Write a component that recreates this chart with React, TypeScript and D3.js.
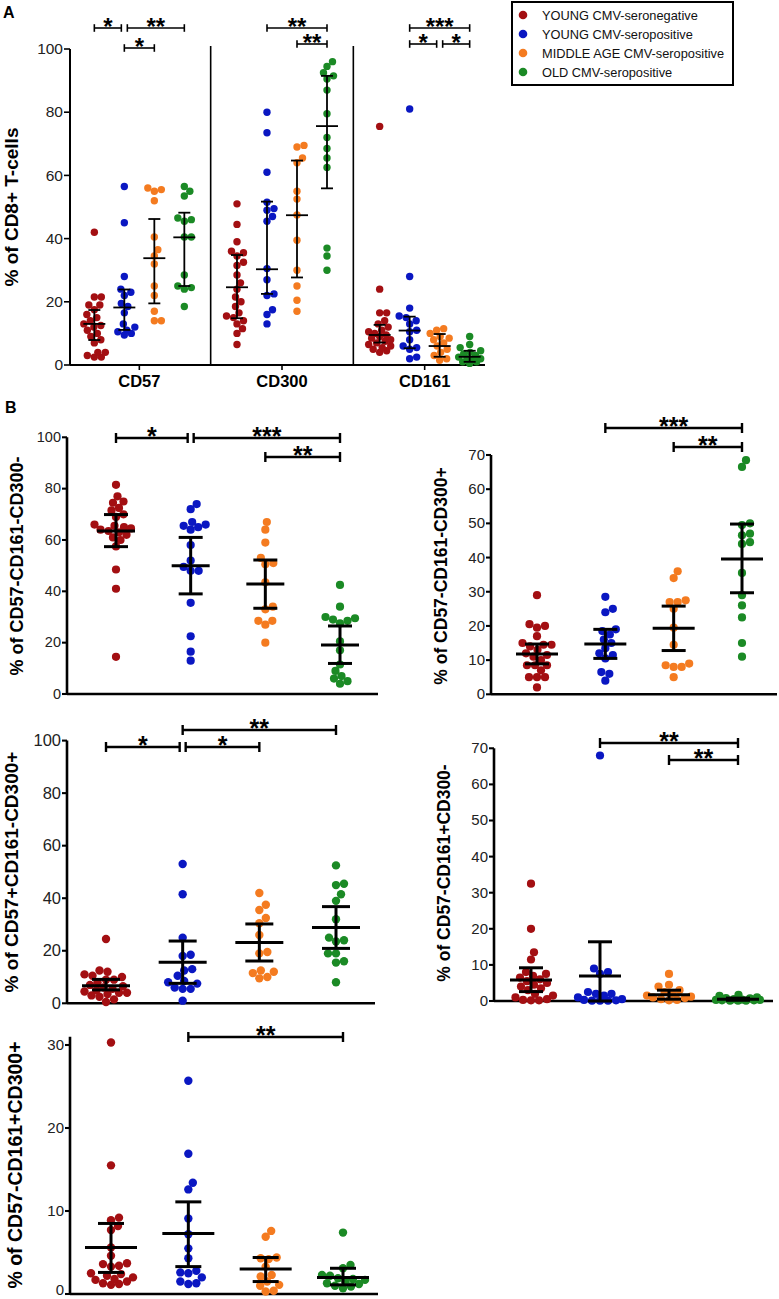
import React from "react";
import * as d3 from "d3";

// ---------------- DATA ----------------
const GROUPS = [
  "YOUNG CMV-seronegative",
  "YOUNG CMV-seropositive",
  "MIDDLE AGE CMV-seropositive",
  "OLD CMV-seropositive",
];
const COLORS = ["#a30f12", "#0a17c2", "#f47b20", "#1b8a25"];

// Panel A
const A_CATEGORIES = ["CD57", "CD300", "CD161"];
const A_TICKS = [0, 20, 40, 60, 80, 100];
const A_CD57 = [
  [42, 21.5, 21.5, 19, 19, 17.5, 16, 15, 14, 13, 12.5, 12, 11, 10, 9, 8, 7, 4, 4, 3, 2.5, 2.5],
  [56.5, 45, 28, 24, 23, 22, 19.5, 18.5, 16.5, 13, 12, 11, 10.5, 10, 9.5],
  [56, 55.5, 55, 52, 40.5, 36.5, 34.5, 32, 25, 22, 17, 14, 14],
  [56.5, 55, 53.5, 46.5, 46, 45.5, 40.5, 40.5, 28.5, 25, 24.5, 24, 18.5],
];
const A_CD300 = [
  [51, 44.5, 39, 36, 35.5, 34.5, 32.5, 31.5, 28.5, 26, 24, 21.5, 20, 18.5, 16.5, 15.5, 15, 14, 13, 11.5, 10, 6.5],
  [80, 73.5, 61, 51.5, 49.5, 49, 47, 45.5, 30.5, 27, 22.5, 22, 17.5, 16, 13],
  [69.5, 69, 65.5, 64, 55, 52.5, 47.5, 39.5, 30, 25, 20.5, 17],
  [96, 94.5, 92.5, 91.5, 90.5, 87, 79.5, 72, 68.5, 65.5, 62.5, 37, 34.5, 30],
];
const A_CD161 = [
  [75.5, 24, 16.5, 16.5, 14, 13, 12, 11, 10.5, 10, 9.5, 9, 8.5, 8, 7.5, 7, 6.5, 6, 5.5, 5, 4.5, 4],
  [81, 28, 18, 15.5, 15, 14, 13, 11, 10.5, 8, 6, 5.5, 5, 2.5, 2],
  [11.5, 11, 10, 9, 8.5, 8, 7, 6, 5, 4, 3, 2, 1.5],
  [9, 6.5, 5.5, 4.5, 4, 3.5, 3, 2.5, 2, 2, 1.5, 1, 1, 0.5],
];
const A_MEANS = [[13, 18.2, 33.8, 40.4], [24.6, 30.3, 47.4, 75.6], [9.5, 10.9, 6.0, 2.6]];
const A_LOWS = [[7.9, 11.1, 19.5, 25], [14.8, 22.5, 27.7, 55.9], [7.1, 5.3, 2.6, 1.0]];
const A_HIGHS = [[17.4, 23.9, 46.2, 48.2], [34.8, 51.7, 64.7, 91.5], [12.7, 15.3, 9.8, 4.5]];
const A_BRACKETS = [
  { cat: 0, from: 0, to: 1, level: 0, label: "*" },
  { cat: 0, from: 1, to: 3, level: 0, label: "**" },
  { cat: 0, from: 1, to: 2, level: 2, label: "*" },
  { cat: 1, from: 1, to: 3, level: 0, label: "**" },
  { cat: 1, from: 2, to: 3, level: 1, label: "**" },
  { cat: 2, from: 1, to: 3, level: 0, label: "***" },
  { cat: 2, from: 1, to: 2, level: 1, label: "*" },
  { cat: 2, from: 2, to: 3, level: 1, label: "*" },
];

// Panel B1: CD57-CD161-CD300-
const B1_LABEL = "% of CD57-CD161-CD300-";
const B1_TICKS = [0, 20, 40, 60, 80, 100];
const B1_VALUES = [
  [81.5, 77, 75, 74.5, 72.5, 71.5, 70, 69, 66, 65.5, 65, 64.5, 64, 63.5, 63, 62, 61, 60, 57.5, 48.5, 41, 14.5],
  [74, 72, 67, 66, 65.5, 65, 64, 58, 52, 49.5, 48, 48, 35.5, 22.5, 16.5, 13],
  [67, 64, 59, 53, 51, 50.5, 43.5, 34, 33, 28.5, 28.5, 27, 20],
  [42.5, 34, 30, 29.5, 29, 28.5, 27.5, 20.5, 17, 11.5, 9, 7, 6, 5, 4],
];
const B1_MEANS = [63.5, 50, 42.9, 19.1];
const B1_LOWS = [57.4, 39, 33.4, 11.9];
const B1_HIGHS = [69.9, 61, 52.2, 26.5];
const B1_BRACKETS = [
  { from: 0, to: 1, level: 0, label: "*" },
  { from: 1, to: 3, level: 0, label: "***" },
  { from: 2, to: 3, level: 1, label: "**" },
];

// Panel B2: CD57-CD161-CD300+
const B2_LABEL = "% of CD57-CD161-CD300+";
const B2_TICKS = [0, 10, 20, 30, 40, 50, 60, 70];
const B2_VALUES = [
  [29, 20.5, 20, 19.5, 17, 15, 14.5, 14.5, 14, 13, 12, 11.5, 11, 10, 8.5, 8.5, 8.5, 7, 5, 5, 5, 2],
  [28.5, 25, 24, 19, 18.5, 17.5, 16, 15, 13.5, 12, 11.5, 10.5, 6.5, 6, 4],
  [36, 34, 27.5, 27, 27, 25, 19.5, 14.5, 9, 8.5, 8, 8, 5],
  [68.5, 66.5, 50, 49.5, 47, 46.5, 44.5, 44, 35.5, 29, 26, 22.5, 15, 11],
];
const B2_MEANS = [11.8, 14.7, 19.3, 39.6];
const B2_LOWS = [8.9, 10.5, 12.8, 29.7];
const B2_HIGHS = [14.7, 19, 25.8, 49.8];
const B2_BRACKETS = [
  { from: 1, to: 3, level: 0, label: "***" },
  { from: 2, to: 3, level: 1, label: "**" },
];

// Panel B3: CD57+CD161-CD300+
const B3_LABEL = "% of CD57+CD161-CD300+";
const B3_TICKS = [0, 20, 40, 60, 80, 100];
const B3_VALUES = [
  [24.5, 12.5, 12, 11, 10.5, 10, 9, 9, 8, 7, 6.5, 6, 5.5, 5, 4.5, 4, 4, 3.5, 3, 2.5, 1.5, 0.5],
  [53, 41.5, 25, 18.5, 18, 13, 12.5, 10.5, 8.5, 8, 7.5, 6, 5.5, 5.5, 1],
  [42, 37.5, 35.5, 32.5, 30.5, 26, 19.5, 19, 12.5, 12, 11.5, 10, 9.5],
  [52.5, 45.5, 45, 41.5, 39, 32, 25, 24, 23.5, 19, 19, 16, 15.5, 8],
];
const B3_MEANS = [6.7, 15.6, 23.1, 28.9];
const B3_LOWS = [5.1, 7.6, 16.1, 20.9];
const B3_HIGHS = [9.1, 23.7, 30.2, 36.8];
const B3_BRACKETS = [
  { from: 1, to: 3, level: 0, label: "**" },
  { from: 0, to: 1, level: 1, label: "*" },
  { from: 1, to: 2, level: 1, label: "*" },
];

// Panel B4: CD57-CD161+CD300-
const B4_LABEL = "% of CD57-CD161+CD300-";
const B4_TICKS = [0, 10, 20, 30, 40, 50, 60, 70];
const B4_VALUES = [
  [32.5, 20, 13.5, 11.5, 8, 7.5, 7, 6.5, 6, 5.5, 5, 4.5, 4, 3.5, 3, 2, 1.5, 1, 0.5, 0.3, 0.2, 0.2],
  [68, 9, 8, 7.5, 2.5, 2, 2, 1.5, 1, 0.5, 0.3, 0.2, 0.1, 0.1, 0.1],
  [7.5, 4.5, 4, 3, 2.5, 2, 1.5, 1.2, 1, 0.8, 0.5, 0.3, 0.2],
  [1.7, 1.4, 1, 0.8, 0.7, 0.5, 0.4, 0.3, 0.3, 0.2, 0.2, 0.1, 0.1, 0.1],
];
const B4_MEANS = [5.8, 6.9, 1.7, 0.5];
const B4_LOWS = [2.6, 0, 0.5, 0.2];
const B4_HIGHS = [9.2, 16.4, 3, 0.8];
const B4_BRACKETS = [
  { from: 1, to: 3, level: 0, label: "**" },
  { from: 2, to: 3, level: 1, label: "**" },
];

// Panel B5: CD57-CD161+CD300+
const B5_LABEL = "% of CD57-CD161+CD300+";
const B5_TICKS = [0, 10, 20, 30];
const B5_VALUES = [
  [30.3, 15.5, 9.2, 8.9, 8.2, 7.7, 5.6, 4.6, 3.7, 3.6, 3.4, 3.3, 2.5, 2.4, 2.2, 2, 1.8, 1.7, 1.5, 1.3, 1.2, 1.1],
  [25.7, 16.9, 13.4, 12.6, 9.1, 7.2, 5.5, 4.3, 2.8, 2.6, 2.5, 2, 1.5, 1.3, 1.2],
  [7.6, 6.9, 4.4, 4.3, 4.2, 3.3, 2.3, 2.1, 1.5, 1.1, 1, 0.4, 0.3],
  [7.4, 3.5, 3.1, 2.3, 2.2, 1.9, 1.8, 1.7, 1.5, 1.3, 1.2, 1, 0.9, 0.7],
];
const B5_MEANS = [5.6, 7.3, 3, 2];
const B5_LOWS = [2.6, 3.3, 1.5, 1.1];
const B5_HIGHS = [8.5, 11.1, 4.4, 3.1];
const B5_BRACKETS = [{ from: 1, to: 3, level: 0, label: "**" }];

// ---------------- LAYOUT ----------------
const FONT = "'Liberation Sans', Arial, Helvetica, sans-serif";
const PAGE_H = 1299;

type Pt = { x: number; y: number };

// beeswarm with a capped half-width: when a row is full, dots overlap (as in the reference)
function swarm(vals: number[], cx: number, y: (v: number) => number, r: number, maxW: number): Pt[] {
  const d = 2 * r - 0.4;
  const placed: Pt[] = [];
  const sorted = [...vals].sort((a, b) => a - b);
  for (const v of sorted) {
    const py = y(v);
    let best = 0;
    let bestScore = -Infinity;
    const steps = Math.floor(maxW / 0.5);
    for (let k = 0; k <= steps * 2; k++) {
      const dx = (k % 2 === 1 ? 1 : -1) * Math.ceil(k / 2) * 0.5;
      const px = cx + dx;
      let minD = Infinity;
      for (const p of placed) {
        const dd = Math.hypot(p.x - px, p.y - py);
        if (dd < minD) minD = dd;
      }
      if (minD >= d) {
        best = dx;
        bestScore = Infinity;
        break;
      }
      if (minD > bestScore + 0.01) {
        bestScore = minD;
        best = dx;
      }
    }
    placed.push({ x: cx + best, y: py });
  }
  return placed;
}

function bracketEnds(brackets: any[], pos: (i: number) => number) {
  return brackets.map((b) => {
    const sameLevel = brackets.filter((o) => o !== b && o.level === b.level);
    const startGap = sameLevel.some((o) => o.to === b.from) ? 3 : 0;
    const endGap = sameLevel.some((o) => o.from === b.to) ? 3 : 0;
    return { x1: pos(b.from) + startGap, x2: pos(b.to) - endGap };
  });
}

function Bracket({ x1, x2, y, label, tick, lw, starSize }: any) {
  return (
    <g>
      <line x1={x1} x2={x2} y1={y} y2={y} stroke="#000" strokeWidth={lw} />
      <line x1={x1} x2={x1} y1={y - tick} y2={y + tick} stroke="#000" strokeWidth={lw} />
      <line x1={x2} x2={x2} y1={y - tick} y2={y + tick} stroke="#000" strokeWidth={lw} />
      <text x={(x1 + x2) / 2} y={y + 7} textAnchor="middle" fontSize={starSize} fontWeight="bold" fontFamily={FONT}>
        {label}
      </text>
    </g>
  );
}

function SummaryMarks({ cx, yS, mean, lo, hi, meanHW, capHW, lw }: any) {
  return (
    <g stroke="#000" strokeWidth={lw}>
      <line x1={cx} x2={cx} y1={yS(lo)} y2={yS(hi)} />
      <line x1={cx - capHW} x2={cx + capHW} y1={yS(lo)} y2={yS(lo)} />
      <line x1={cx - capHW} x2={cx + capHW} y1={yS(hi)} y2={yS(hi)} />
      <line x1={cx - meanHW} x2={cx + meanHW} y1={yS(mean)} y2={yS(mean)} />
    </g>
  );
}

function YAxis({ x, yS, ticks, top, bottom, fontSize, lw, tickLen }: any) {
  return (
    <g>
      <line x1={x} x2={x} y1={top} y2={bottom} stroke="#000" strokeWidth={lw} />
      {ticks.map((t: number) => {
        // keep the baseline (plus descent) inside the page
        const base = Math.min(yS(t) + 0.33 * fontSize, PAGE_H - 0.22 * fontSize - 0.5);
        return (
          <g key={t}>
            <line x1={x - tickLen} x2={x} y1={yS(t)} y2={yS(t)} stroke="#000" strokeWidth={lw * 0.8} />
            <text x={x - tickLen - 1} y={base} textAnchor="end" fontSize={fontSize} fontFamily={FONT} fill="#222">
              {t}
            </text>
          </g>
        );
      })}
    </g>
  );
}

function PanelA() {
  const yS = d3.scaleLinear().domain([0, 100]).range([365, 49]);
  const band = d3.scaleBand().domain(A_CATEGORIES).range([68, 496]);
  const off = d3.scalePoint<number>().domain([0, 1, 2, 3]).range([-45, 45]);
  const center = (c: string) => (band(c) as number) + band.bandwidth() / 2;
  const sets = [A_CD57, A_CD300, A_CD161];
  const levelY = [28, 44, 48];
  const r = 3.7;
  return (
    <g>
      <text x={3} y={18} fontSize={16} fontWeight="bold" fontFamily={FONT}>A</text>
      {A_CATEGORIES.slice(1).map((c) => (
        <line key={c} x1={band(c)} x2={band(c)} y1={46} y2={365} stroke="#000" strokeWidth={1.6} />
      ))}
      <line x1={70} x2={485} y1={365} y2={365} stroke="#000" strokeWidth={2} />
      {A_CATEGORIES.map((c) => (
        <g key={c}>
          <line x1={center(c)} x2={center(c)} y1={365} y2={370} stroke="#000" strokeWidth={1.6} />
          <text x={center(c)} y={387} textAnchor="middle" fontSize={16.5} fontWeight="bold" fontFamily={FONT}>
            {c}
          </text>
        </g>
      ))}
      <YAxis x={70} yS={yS} ticks={A_TICKS} top={49} bottom={365} fontSize={15.5} lw={2} tickLen={6} />
      <text
        transform={`translate(18,207) rotate(-90)`}
        textAnchor="middle"
        fontSize={19}
        fontWeight="bold"
        fontFamily={FONT}
      >
        % of CD8+ T-cells
      </text>
      {sets.map((set, ci) =>
        set.map((vals, gi) => {
          const cx = center(A_CATEGORIES[ci]) + (off(gi) as number);
          return swarm(vals, cx, yS, r, 11).map((p, k) => (
            <circle key={`${ci}-${gi}-${k}`} cx={p.x} cy={p.y} r={r} fill={COLORS[gi]} />
          ));
        })
      )}
      {sets.map((set, ci) =>
        set.map((_, gi) => (
          <SummaryMarks
            key={`s${ci}-${gi}`}
            cx={center(A_CATEGORIES[ci]) + (off(gi) as number)}
            yS={yS}
            mean={A_MEANS[ci][gi]}
            lo={A_LOWS[ci][gi]}
            hi={A_HIGHS[ci][gi]}
            meanHW={11}
            capHW={6}
            lw={1.8}
          />
        ))
      )}
      {A_CATEGORIES.map((c, ci) => {
        const list = A_BRACKETS.filter((b) => b.cat === ci);
        const ends = bracketEnds(list, (g) => center(c) + (off(g) as number));
        return list.map((b, i) => (
          <Bracket
            key={`${ci}-${i}`}
            x1={ends[i].x1}
            x2={ends[i].x2}
            y={levelY[b.level]}
            label={b.label}
            tick={3.8}
            lw={1.6}
            starSize={24}
          />
        ));
      })}
    </g>
  );
}

function PanelB({ cfg, values, means, lows, highs, ticks, brackets, label }: any) {
  const yS = d3.scaleLinear().domain([0, cfg.max]).range([cfg.bottom, cfg.top]);
  const xP = d3.scalePoint<number>().domain([0, 1, 2, 3]).range([cfg.first, cfg.last]);
  const pos = (i: number) => xP(i) as number;
  const ends = bracketEnds(brackets, pos);
  return (
    <g>
      <line x1={cfg.axisX} x2={cfg.right} y1={cfg.bottom} y2={cfg.bottom} stroke="#000" strokeWidth={2.6} />
      <YAxis x={cfg.axisX} yS={yS} ticks={ticks} top={cfg.top} bottom={cfg.bottom} fontSize={cfg.tickFont} lw={2.6} tickLen={5} />
      <text
        transform={`translate(${cfg.labelX},${cfg.labelY}) rotate(-90)`}
        textAnchor="middle"
        fontSize={cfg.labelFont}
        fontWeight="bold"
        fontFamily={FONT}
      >
        {label}
      </text>
      {values.map((vals: number[], gi: number) =>
        swarm(vals, pos(gi), yS, cfg.r, cfg.maxW).map((p, k) => (
          <circle key={`${gi}-${k}`} cx={p.x} cy={p.y} r={cfg.r} fill={COLORS[gi]} />
        ))
      )}
      {values.map((_: any, gi: number) => (
        <SummaryMarks
          key={`m${gi}`}
          cx={pos(gi)}
          yS={yS}
          mean={means[gi]}
          lo={lows[gi]}
          hi={highs[gi]}
          meanHW={cfg.meanHW}
          capHW={cfg.capHW}
          lw={3}
        />
      ))}
      {brackets.map((b: any, i: number) => (
        <Bracket
          key={`b${i}`}
          x1={ends[i].x1}
          x2={ends[i].x2}
          y={cfg.levels[b.level]}
          label={b.label}
          tick={5}
          lw={2.4}
          starSize={25}
        />
      ))}
    </g>
  );
}

const CFG_B1 = { axisX: 67, right: 378, bottom: 694, top: 437.3, max: 100, first: 116, last: 340, tickFont: 14.5, labelFont: 18, labelX: 23, labelY: 566, meanHW: 19, capHW: 12, r: 4.1, maxW: 22, levels: [438, 457] };
const CFG_B2 = { axisX: 491, right: 777, bottom: 694.3, top: 455, max: 70, first: 537, last: 742, tickFont: 15, labelFont: 17.5, labelX: 447, labelY: 576, meanHW: 21, capHW: 12, r: 4.1, maxW: 22, levels: [428, 447] };
const CFG_B3 = { axisX: 67, right: 375, bottom: 1003.3, top: 740.6, max: 100, first: 106, last: 336, tickFont: 16.5, labelFont: 19, labelX: 18, labelY: 872, meanHW: 24, capHW: 14, r: 4.2, maxW: 22, levels: [730, 747] };
const CFG_B4 = { axisX: 494, right: 773, bottom: 1001, top: 748.3, max: 70, first: 531, last: 738, tickFont: 15, labelFont: 17.5, labelX: 450, labelY: 873, meanHW: 21, capHW: 12, r: 4.1, maxW: 22, levels: [743, 760] };
const CFG_B5 = { axisX: 70, right: 378, bottom: 1294, top: 1036.7, max: 31, first: 111, last: 343, tickFont: 15, labelFont: 19.5, labelX: 22, labelY: 1165, meanHW: 26, capHW: 13, r: 4.2, maxW: 22, levels: [1037] };

function Legend() {
  const rows = d3.scalePoint<number>().domain([0, 1, 2, 3]).range([15, 72]);
  return (
    <g>
      <rect x={512} y={2} width={221} height={83} fill="#fff" stroke="#000" strokeWidth={2} />
      {GROUPS.map((g, i) => (
        <g key={g}>
          <circle cx={523} cy={rows(i) as number} r={4.3} fill={COLORS[i]} />
          <text x={542} y={rows(i) as number} dy="0.36em" fontSize={12.8} fontFamily={FONT} fill="#111">
            {g}
          </text>
        </g>
      ))}
    </g>
  );
}

export default function App() {
  React.useEffect(() => {
    document.body.style.margin = "0";
  }, []);
  return (
    <svg width={779} height={PAGE_H} style={{ position: "absolute", left: 0, top: 0, background: "#fff" }}>
      <rect x={0} y={0} width={779} height={PAGE_H} fill="#fff" />
      <PanelA />
      <Legend />
      <text x={5} y={413} fontSize={16} fontWeight="bold" fontFamily={FONT}>B</text>
      <PanelB cfg={CFG_B1} values={B1_VALUES} means={B1_MEANS} lows={B1_LOWS} highs={B1_HIGHS} ticks={B1_TICKS} brackets={B1_BRACKETS} label={B1_LABEL} />
      <PanelB cfg={CFG_B2} values={B2_VALUES} means={B2_MEANS} lows={B2_LOWS} highs={B2_HIGHS} ticks={B2_TICKS} brackets={B2_BRACKETS} label={B2_LABEL} />
      <PanelB cfg={CFG_B3} values={B3_VALUES} means={B3_MEANS} lows={B3_LOWS} highs={B3_HIGHS} ticks={B3_TICKS} brackets={B3_BRACKETS} label={B3_LABEL} />
      <PanelB cfg={CFG_B4} values={B4_VALUES} means={B4_MEANS} lows={B4_LOWS} highs={B4_HIGHS} ticks={B4_TICKS} brackets={B4_BRACKETS} label={B4_LABEL} />
      <PanelB cfg={CFG_B5} values={B5_VALUES} means={B5_MEANS} lows={B5_LOWS} highs={B5_HIGHS} ticks={B5_TICKS} brackets={B5_BRACKETS} label={B5_LABEL} />
    </svg>
  );
}
